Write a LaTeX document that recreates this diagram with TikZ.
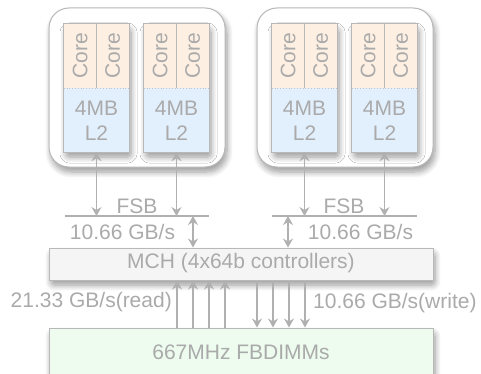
\documentclass[tikz,border=0pt]{standalone}
\usepackage{fontspec}
\setmainfont{Liberation Sans}
\usetikzlibrary{arrows.meta,shadows.blur,calc}
\definecolor{txtgray}{RGB}{170,170,170}
\definecolor{bordergray}{RGB}{184,184,184}
\definecolor{arrowgray}{RGB}{176,176,176}
\definecolor{corefill}{RGB}{253,240,227}
\definecolor{l2fill}{RGB}{226,239,252}
\definecolor{mchfill}{RGB}{245,245,245}
\definecolor{dimmfill}{RGB}{237,252,238}
\tikzset{
  lbl/.style={font=\fontsize{21}{25}\selectfont, text=txtgray, inner sep=0pt, align=center},
  softshadow/.style={blur shadow={shadow xshift=2pt, shadow yshift=-5pt, shadow blur steps=8, shadow blur extra rounding=3pt, shadow opacity=40, shadow blur radius=6pt}},
  pkgbox/.style={draw=bordergray, line width=1pt, fill=white, rounded corners=20pt, minimum width=176pt, minimum height=159pt, softshadow},
  chipbox/.style={fill=l2fill, minimum width=65pt, minimum height=128pt, inner sep=0pt, softshadow},
  bigbox/.style={draw=bordergray, line width=1pt, minimum width=384pt, inner sep=0pt},
  busline/.style={draw=arrowgray, line width=1.2pt},
  arr/.style={draw=arrowgray, line width=1.4pt, arrows={-Stealth[length=9pt,width=10pt,inset=3pt]}},
  biarr/.style={draw=arrowgray, line width=1.4pt, arrows={Stealth[length=9pt,width=10pt,inset=3pt]-Stealth[length=9pt,width=10pt,inset=3pt]}}
}
\newcommand{\mychip}[2]{%
  \node[chipbox] (#1) at (#2+32.5,88) {};
  \fill[corefill] (#1.north west) rectangle (#1.east);
  \draw[bordergray, line width=1pt] (#1.north) -- (#1.center);
  \draw[bordergray!80!l2fill, line width=0.8pt, dotted] (#1.west) -- (#1.east);
  \draw[bordergray, line width=1pt] (#1.north west) rectangle (#1.south east);
  \node[lbl, rotate=90] (#1c1) at (#2+16.25,56) {Core};
  \node[lbl, rotate=90] (#1c2) at (#2+48.75,56) {Core};
  \node[lbl] (#1l2) at (#2+32.5,121) {4MB\\L2};
}
\begin{document}
\begin{tikzpicture}[x=1pt,y=-1pt]
\useasboundingbox (0,0) rectangle (481,374);
% packages
\node[pkgbox] (pkgL) at (137,87.5) {};
\node[pkgbox] (pkgR) at (345,87.5) {};
\mychip{chA}{64}
\mychip{chB}{144}
\mychip{chC}{272}
\mychip{chD}{352}
% FSB lines
\coordinate (fsbL1) at (65,216);
\coordinate (fsbL2) at (209,216);
\coordinate (fsbR1) at (272,216);
\coordinate (fsbR2) at (417,216);
\draw[busline] (fsbL1) -- (fsbL2);
\draw[busline] (fsbR1) -- (fsbR2);
\node[lbl] (fsbLt) at (137,206) {FSB};
\node[lbl] (fsbRt) at (344,206) {FSB};
% chip to FSB arrows
\draw[biarr] (chA.south) -- (chA.south |- fsbL1);
\draw[biarr] (chB.south) -- (chB.south |- fsbL1);
\draw[biarr] (chC.south) -- (chC.south |- fsbR1);
\draw[biarr] (chD.south) -- (chD.south |- fsbR1);
% MCH
\node[bigbox, fill=mchfill, minimum height=32pt, softshadow] (mch) at (241,264) {};
\node[lbl] (mcht) at (241,263) {MCH (4x64b controllers)};
% FSB to MCH
\coordinate (bL) at (193,216);
\coordinate (bR) at (288,216);
\draw[biarr] (bL) -- (bL |- mch.north);
\draw[biarr] (bR) -- (bR |- mch.north);
\node[lbl] (bwL) at (122.5,232) {10.66 GB/s};
\node[lbl] (bwR) at (360.5,232) {10.66 GB/s};
% FBDIMMs
\node[bigbox, fill=dimmfill, minimum height=60pt, softshadow] (dimm) at (241,358) {};
\node[lbl] (dimmt) at (241,352) {667MHz FBDIMMs};
% read / write arrows
\foreach \x in {177,193,209,225} \draw[arr] (\x,0 |- dimm.north) -- (\x,0 |- mch.south);
\foreach \x in {257,273,289,305} \draw[arr] (\x,0 |- mch.south) -- (\x,0 |- dimm.north);
\node[lbl, anchor=east] (rd) at (172,302) {21.33 GB/s(read)};
\node[lbl, anchor=west] (wr) at (313,303) {10.66 GB/s(write)};
\end{tikzpicture}
\end{document}
